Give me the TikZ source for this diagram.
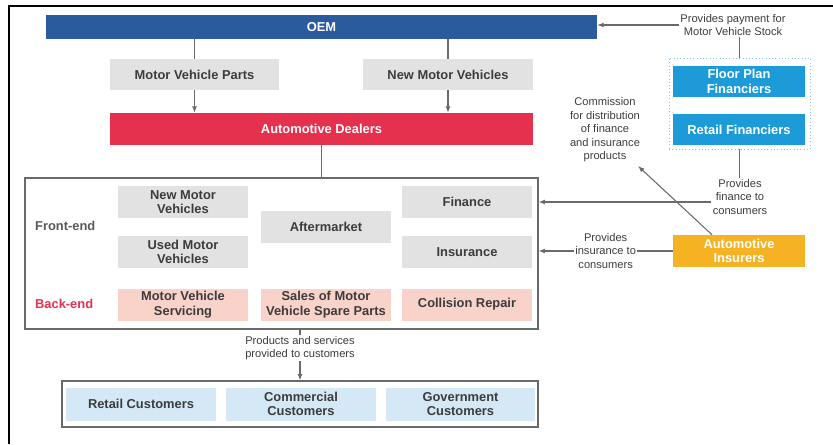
\documentclass[tikz,border=0pt]{standalone}
\usepackage{fontspec}
\setmainfont{Liberation Sans}
\usetikzlibrary{arrows.meta}

\definecolor{oemblue}{HTML}{2A5B9C}
\definecolor{dealred}{HTML}{E5314E}
\definecolor{boxgray}{HTML}{E2E2E2}
\definecolor{backpink}{HTML}{F9D2CA}
\definecolor{custblue}{HTML}{D4E8F6}
\definecolor{finblue}{HTML}{1C9BD8}
\definecolor{insorange}{HTML}{F5B323}
\definecolor{linegray}{HTML}{6A6A6A}
\definecolor{textgray}{HTML}{3C3C3C}

\tikzset{
 box/.style={fill=boxgray, text=textgray, font=\bfseries\fontsize{11}{12.5}\selectfont,
   align=center, inner sep=0pt, minimum width=3.9cm, minimum height=0.96cm},
 backbox/.style={box, fill=backpink},
 custbox/.style={box, fill=custblue, minimum width=4.5cm, minimum height=0.99cm},
 colbox/.style={box, text=white},
 note/.style={text=textgray, font=\fontsize{9.5}{11.5}\selectfont, align=center, inner sep=1pt},
 wire/.style={draw=linegray, line width=0.9pt},
}

\begin{document}
\begin{tikzpicture}[x=0.03cm, y=-0.03cm, >={Latex[length=5.5pt,width=4.2pt]}]
 \useasboundingbox (0,0) rectangle (833,444);
 \draw[line width=1.6pt] (9,444) -- (9,6) -- (833,6);

 \node[colbox, fill=oemblue, minimum width=16.53cm, minimum height=0.72cm] (oem) at (321.5,27) {OEM};
 \node[box, minimum width=5.07cm, minimum height=0.93cm] (mvp) at (194.5,74.5) {Motor Vehicle Parts};
 \node[box, minimum width=5.1cm, minimum height=0.93cm] (nmv) at (448,74.5) {New Motor Vehicles};
 \node[colbox, fill=dealred, minimum width=12.69cm] (dealers) at (321.5,129) {Automotive Dealers};

 % dealer activities
 \node[draw=linegray, line width=0.9pt, minimum width=15.39cm, minimum height=4.53cm] (market) at (281.5,253.5) {};
 \node[anchor=west, text=textgray!85, font=\bfseries\fontsize{11}{12}\selectfont] (front) at (31,226) {Front-end};
 \node[anchor=west, text=dealred, font=\bfseries\fontsize{11}{12}\selectfont] (back) at (31,304) {Back-end};
 \node[box] (newmv) at (183,202) {New Motor\\Vehicles};
 \node[box] (usedmv) at (183,252) {Used Motor\\Vehicles};
 \node[box] (after) at (326,227) {Aftermarket};
 \node[box] (fin) at (467,202) {Finance};
 \node[box] (ins) at (467,252) {Insurance};
 \node[backbox] (serv) at (183,304.5) {Motor Vehicle\\Servicing};
 \node[backbox] (sales) at (326,304.5) {Sales of Motor\\Vehicle Spare Parts};
 \node[backbox] (coll) at (467,304.5) {Collision Repair};

 % customers
 \node[draw=linegray, line width=0.9pt, minimum width=14.28cm, minimum height=1.38cm] (cust) at (300,404) {};
 \node[custbox] (retail) at (141,404) {Retail Customers};
 \node[custbox] (commercial) at (301,404) {Commercial\\Customers};
 \node[custbox, minimum width=4.47cm] (government) at (460.5,404) {Government\\Customers};

 % financiers and insurers
 \node[note] (pay) at (733,25) {Provides payment for\\Motor Vehicle Stock};
 \node[draw=finblue!55, dotted, line width=0.8pt, minimum width=4.23cm, minimum height=2.73cm] (fins) at (739.5,103.5) {};
 \node[colbox, fill=finblue, minimum width=3.96cm, minimum height=0.93cm] (floor) at (739,81.5) {Floor Plan\\Financiers};
 \node[colbox, fill=finblue, minimum width=3.96cm, minimum height=0.93cm] (retfin) at (739,129.5) {Retail Financiers};
 \node[note] (fincon) at (740,197) {Provides\\finance to\\consumers};
 \node[colbox, fill=insorange, minimum width=3.96cm] (insurers) at (739,251) {Automotive\\Insurers};
 \node[note] (comm) at (605,130) {Commission\\for distribution\\of finance\\and insurance\\products};
 \coordinate (commtip) at (638,166);

 \draw[wire] (oem.south -| mvp.north) -- (mvp.north);
 \draw[wire] (oem.south -| nmv.north) -- (nmv.north);
 \draw[wire, ->] (mvp.south) -- (mvp.south |- dealers.north);
 \draw[wire, ->] (nmv.south) -- (nmv.south |- dealers.north);
 \draw[wire] (dealers.south) -- (dealers.south |- market.north);
 \draw[wire, ->] (market.south -| cust.north) -- node[note, fill=white, pos=0.37] {Products and services\\provided to customers} (cust.north);

 \draw[wire, ->] (pay.west) -- (pay.west -| oem.east);
 \draw[wire] (fins.north) -- (fins.north |- pay.south);
 \draw[wire] (fins.south) -- (fins.south |- fincon.north);
 \draw[wire, ->] (fincon.west |- fin.east) -- (fin.east -| market.east);
 \draw[wire, ->] (insurers.west) -- node[note, fill=white] {Provides\\insurance to\\consumers} (insurers.west -| market.east);
 \draw[wire, ->] ([xshift=-0.81cm]insurers.north) -- (commtip);
\end{tikzpicture}
\end{document}
